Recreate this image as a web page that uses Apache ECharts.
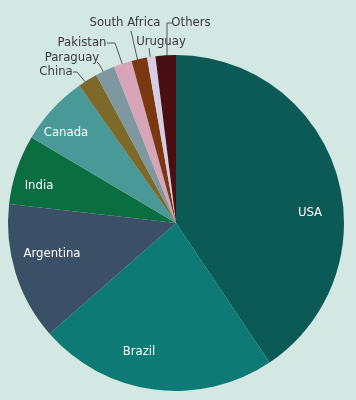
<!DOCTYPE html>
<html>
<head>
<meta charset="utf-8">
<script src="https://cdn.jsdelivr.net/npm/echarts@6/dist/echarts.min.js"></script>
<style>
html,body{margin:0;padding:0;background:#d3e8e2;}
#chart{width:356px;height:400px;}
</style>
</head>
<body>
<div id="chart"></div>
<script>
const categories = ['USA','Brazil','Argentina','India','Canada','China','Paraguay','Pakistan','South Africa','Uruguay','Others'];
const values = [40.5, 22.9, 13.2, 6.7, 6.7, 1.9, 1.85, 1.75, 1.5, 0.8, 1.95];
const colors = ['#0c5a55','#0d7a75','#3b4f66','#0a6e40','#4a9999','#7d6a2a','#7f98a0','#d8a4b8','#7a3810','#d6cce4','#4a0f10'];
const insideNames = ['USA','Brazil','Argentina','India','Canada'];

// label placement (centre of text) and leader lines
const labelPos = {
  'USA':[310,213], 'Brazil':[139,352], 'Argentina':[52,254], 'India':[39,186], 'Canada':[66,133],
  'China':[56,72], 'Paraguay':[72,58], 'Pakistan':[82,43], 'South Africa':[125,23], 'Uruguay':[161,42], 'Others':[191,23]
};
const leaders = {
  'China':[[73,72],[77,72],[92,90]],
  'Paraguay':[[97,62],[99,64],[108,80]],
  'Pakistan':[[107,43],[115,43],[125,72]],
  'South Africa':[[131,31],[131,31],[138,62]],
  'Uruguay':[[149,48],[149,48],[151,62]],
  'Others':[[172,23],[167,23],[167,57]]
};

const FONT = "'DejaVu Sans Condensed','DejaVu Sans',sans-serif";

const data = categories.map((c,i)=>{
  const inside = insideNames.includes(c);
  return {
    name:c, value:values[i],
    itemStyle:{color:colors[i]},
    label: inside
      ? {position:'inside', color:'#ffffff', fontSize:13}
      : {position:'outside', color:'#3a3a3a', fontSize:13},
    labelLine: {show: !inside}
  };
});

const chart = echarts.init(document.getElementById('chart'), null, {renderer:'canvas'});
chart.setOption({
  backgroundColor:'#d3e8e2',
  animation:false,
  series:[{
    type:'pie',
    center:[176,223],
    radius:[0,168],
    startAngle:90,
    clockwise:true,
    avoidLabelOverlap:false,
    minShowLabelAngle:0,
    itemStyle:{borderWidth:0},
    label:{
      show:true,
      formatter:'{b}',
      fontFamily:FONT,
      fontSize:13
    },
    labelLine:{lineStyle:{color:'#555555', width:1}},
    labelLayout:function(p){
      const name = categories[p.dataIndex];
      const pos = labelPos[name];
      const o = {x:pos[0], y:pos[1], align:'center', verticalAlign:'middle'};
      if (leaders[name]) o.labelLinePoints = leaders[name];
      return o;
    },
    data:data
  }]
});
</script>
</body>
</html>
